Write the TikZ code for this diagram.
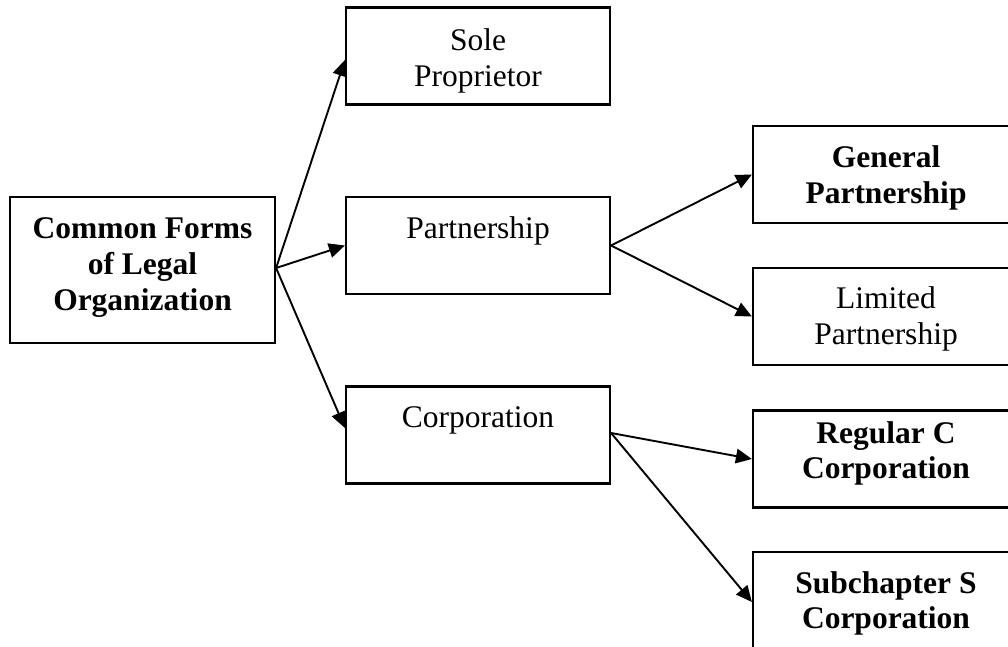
\documentclass[tikz,border=0pt]{standalone}
\usepackage{fontspec}
\setmainfont{Liberation Serif}
\usetikzlibrary{arrows.meta}
\begin{document}
\begin{tikzpicture}[x=1pt,y=-1pt,
  box/.style={draw=black,line width=2.2pt,rectangle,inner sep=0pt,minimum width=#1,minimum height=97pt},
  box/.default=264pt,
  txt/.style={anchor=base,inner sep=0pt,font=\fontsize{31.5pt}{37pt}\selectfont},
  btxt/.style={txt,font=\fontsize{31.5pt}{37pt}\selectfont\bfseries},
  conn/.style={line width=1.9pt,-{Triangle[length=16pt,width=14.5pt]}}]
\useasboundingbox (0,0) rectangle (1008,646);
\clip (0,0) rectangle (1008,646);
% boxes
\node[box=265pt,minimum height=146pt] (common) at (142.5,270) {};
\node[box] (sole) at (478,56) {};
\node[box] (partner) at (478,245.5) {};
\node[box] (corp) at (478,435) {};
\node[box=266pt] (general) at (886,174.5) {};
\node[box=266pt] (limited) at (886,316.5) {};
\node[box=266pt] (regular) at (886,459) {};
\node[box=266pt] (subs) at (886,600.5) {};
% texts
\node[btxt] (c1) at (142.5,238) {Common Forms};
\node[btxt] (c2) at (142.5,274) {of Legal};
\node[btxt] (c3) at (142.5,310) {Organization};
\node[txt] (s1) at (478,50) {Sole};
\node[txt] (s2) at (478,86) {Proprietor};
\node[txt] (p1) at (478,238) {Partnership};
\node[txt] (k1) at (478,427) {Corporation};
\node[btxt] (g1) at (886,167) {General};
\node[btxt] (g2) at (886,203) {Partnership};
\node[txt] (l1) at (886,308) {Limited};
\node[txt] (l2) at (886,344) {Partnership};
\node[btxt] (r1) at (886,443) {Regular C};
\node[btxt] (r2) at (886,478) {Corporation};
\node[btxt] (u1) at (886,593) {Subchapter S};
\node[btxt] (u2) at (886,628) {Corporation};
% connectors
\draw[conn] ([yshift=2pt]common.east) -- ([yshift=-4pt]sole.west);
\draw[conn] ([yshift=2pt]common.east) -- (partner.west);
\draw[conn] ([yshift=2pt]common.east) -- ([yshift=7pt]corp.west);
\draw[conn] (partner.east) -- (general.west);
\draw[conn] (partner.east) -- (limited.west);
\draw[conn] ([yshift=2pt]corp.east) -- (regular.west);
\draw[conn] ([yshift=2pt]corp.east) -- ([yshift=-1.5pt]subs.west);
\end{tikzpicture}
\end{document}
